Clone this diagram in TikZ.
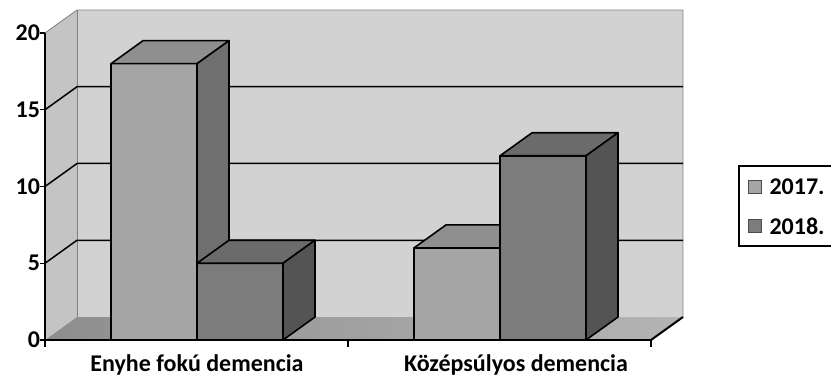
\documentclass[tikz,border=0pt]{standalone}
\usepackage{fontspec}
\setmainfont{Carlito}
\usetikzlibrary{positioning}

\definecolor{wallgray}{HTML}{D2D2D2}
\definecolor{sidegray}{HTML}{C4C4C4}
\definecolor{floordark}{HTML}{8E8E8E}
\definecolor{floorlight}{HTML}{B4B4B4}
\definecolor{afront}{HTML}{A5A5A5}
\definecolor{atop}{HTML}{8F8F8F}
\definecolor{aside}{HTML}{6F6F6F}
\definecolor{bfront}{HTML}{7C7C7C}
\definecolor{btop}{HTML}{6B6B6B}
\definecolor{bside}{HTML}{545454}

% one column: x of front left corner, value, colour prefix
\newcommand{\colbar}[3]{%
  \pgfmathsetmacro\barh{41+#2*15.35}
  \filldraw [barline, fill=#3front] (#1, 41) rectangle (#1+86, \barh);
  \filldraw [barline, fill=#3top] (#1, \barh) -- ++(32, 23) -- ++(86, 0) -- ++(-32, -23) -- cycle;
  \filldraw [barline, fill=#3side] (#1+86, 41) -- ++(32, 23) -- (#1+118, \barh+23) -- (#1+86, \barh) -- cycle;
}

\begin{document}
\begin{tikzpicture}[x=1pt, y=1pt, font=\fontsize{24}{28}\selectfont\bfseries,
    barline/.style={draw=black, line width=1.6pt, line join=round},
    grid/.style={black, line width=1.5pt},
    axis/.style={black, line width=1.2pt}]
    \useasboundingbox (0, 0) rectangle (831, 381);

    % walls and floor
    \fill [wallgray] (77, 64) rectangle (683, 371);
    \fill [sidegray] (45, 41) -- (77, 64) -- (77, 371) -- (45, 348) -- cycle;
    \shade [left color=floordark, right color=floorlight] (45, 41) -- (651, 41) -- (683, 64) -- (77, 64) -- cycle;
    \draw [gray, line width=0.8pt] (45, 348) -- (77, 371) -- (683, 371) -- (683, 64);
    \draw [gray, line width=0.8pt] (77, 64) -- (77, 371);

    \foreach \v in {5, 10, 15}
      \draw [grid] (45, 41+\v*15.35) -- (77, 64+\v*15.35) -- (683, 64+\v*15.35);

    % columns
    \colbar{111}{18}{a}
    \colbar{197}{5}{b}
    \colbar{414}{6}{a}
    \colbar{500}{12}{b}

    % axes
    \draw [axis] (45, 41) -- (45, 348);
    \draw [axis] (45, 41) -- (651, 41);
    \draw [black, line width=2pt] (651, 41) -- (683, 64);
    \foreach \v in {0, 5, 10, 15, 20}
      \draw [axis] (40, 41+\v*15.35) -- (45, 41+\v*15.35) node [left=1pt] (tick\v) {\v};
    \foreach \x in {45, 348, 651}
      \draw [axis] (\x, 41) -- (\x, 34);

    \node (catA) at (197, 16) {Enyhe fokú demencia};
    \node (catB) at (516, 16) {Középsúlyos demencia};

    % legend
    \draw [black, line width=1.2pt] (831, 215) -- (739, 215) -- (739, 135) -- (831, 135);
    \filldraw [draw=black!70, fill=afront] (748, 188) rectangle (761, 201);
    \filldraw [draw=black!70, fill=bfront] (748, 149) rectangle (761, 162);
    \node [anchor=west] (keyA) at (766, 194) {2017.};
    \node [anchor=west] (keyB) at (766, 155) {2018.};
\end{tikzpicture}
\end{document}
